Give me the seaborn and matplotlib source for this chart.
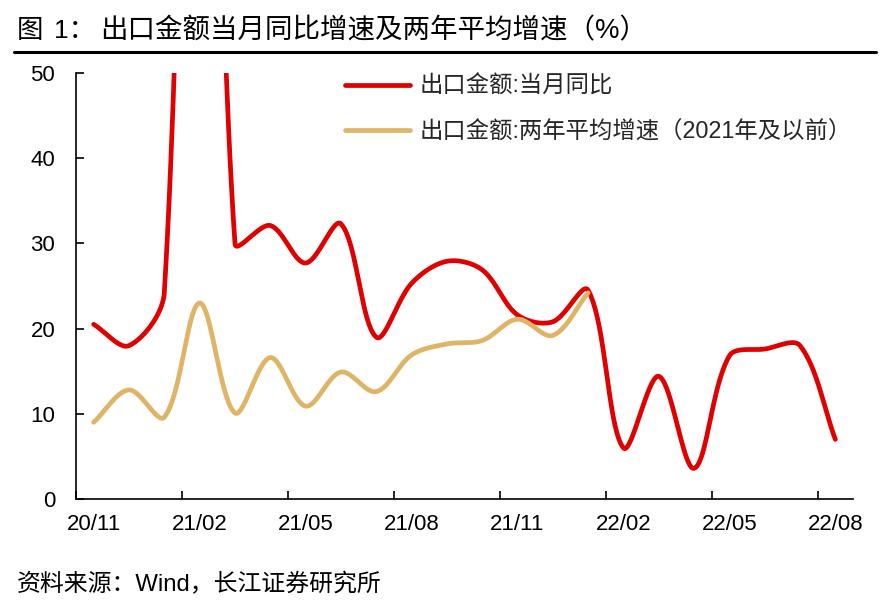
import numpy as np
import seaborn as sns
import matplotlib.pyplot as plt
from matplotlib.lines import Line2D

# Monthly export data (%)
months = ["20/11", "20/12", "21/01", "21/02", "21/03", "21/04", "21/05", "21/06",
          "21/07", "21/08", "21/09", "21/10", "21/11", "21/12", "22/01", "22/02",
          "22/03", "22/04", "22/05", "22/06", "22/07", "22/08"]
yoy = [20.5, 18.0, 24.2, 154.9, 30.0, 32.1, 27.7, 32.3, 19.0, 25.3, 27.9, 26.9,
       21.6, 20.8, 24.5, 6.0, 14.4, 3.6, 16.8, 17.6, 18.0, 7.0]
two_year = [9.0, 12.8, 9.6, 23.0, 10.1, 16.6, 10.9, 14.9, 12.6, 16.9, 18.2, 18.6,
            21.1, 19.2, 24.2]
tick_labels = months[::3]
yticks = [0, 10, 20, 30, 40, 50]

RED = "#E00000"
TAN = "#DFB466"


def excel_smooth(ax, x, y, n=40):
    # Bezier smoothing like Excel "smoothed line", computed in pixel space
    pts = ax.transData.transform(np.column_stack([x, y]))
    m = len(pts)
    out = []
    t = np.linspace(0, 1, n)[:, None]
    for i in range(m - 1):
        p0 = pts[i - 1] if i > 0 else pts[i]
        p1, p2 = pts[i], pts[i + 1]
        p3 = pts[i + 2] if i + 2 < m else pts[i + 1]
        d01 = np.hypot(*(p1 - p0))
        d12 = np.hypot(*(p2 - p1))
        d23 = np.hypot(*(p3 - p2))
        c1 = p1 + (p2 - p0) * d12 / (d01 + d12) / 3
        c2 = p2 - (p3 - p1) * d12 / (d12 + d23) / 3
        seg = (1 - t) ** 3 * p1 + 3 * (1 - t) ** 2 * t * c1 + 3 * (1 - t) * t ** 2 * c2 + t ** 3 * p2
        out.append(seg if i == 0 else seg[1:])
    out = ax.transData.inverted().transform(np.vstack(out))
    return out[:, 0], out[:, 1]


sns.set_theme(style="white")
plt.rcParams['font.family'] = ['Liberation Sans', 'Noto Sans CJK SC']
plt.rcParams['axes.unicode_minus'] = False

fig = plt.figure(figsize=(8.89, 6.16), dpi=100)
ax = fig.add_axes([76 / 889, 1 - 499 / 616, (853 - 76) / 889, (499 - 73) / 616])
ax.set_xlim(-0.5, len(months) - 0.5)
ax.set_ylim(0, 50)

x_red = np.arange(len(yoy))
x_tan = np.arange(len(two_year))
xs, ys = excel_smooth(ax, x_red, yoy)
sns.lineplot(x=xs, y=ys, sort=False, estimator=None, color=RED, linewidth=3.4,
             solid_capstyle='round', ax=ax)
xs, ys = excel_smooth(ax, x_tan, two_year)
sns.lineplot(x=xs, y=ys, sort=False, estimator=None, color=TAN, linewidth=3.4,
             solid_capstyle='round', ax=ax)

# axes styling
sns.despine(ax=ax)
for s in ["left", "bottom"]:
    ax.spines[s].set_color("black")
    ax.spines[s].set_linewidth(1.2)
ax.set_yticks(yticks)
ax.set_yticklabels([str(v) for v in yticks])
ax.set_xticks(np.arange(-0.5, len(months) - 1, 3))
ax.set_xticklabels([])
ax.set_xticks(np.arange(0, len(months), 3), minor=True)
ax.set_xticklabels(tick_labels, minor=True)
ax.tick_params(axis='both', which='major', direction='in', length=6, width=1.2,
               color='black', labelsize=16, labelcolor='black')
ax.tick_params(axis='y', pad=15, left=True)
ax.tick_params(axis='x', which='major', bottom=True)
ax.tick_params(axis='x', which='minor', length=0, pad=11, labelsize=16, labelcolor='black')
ax.grid(False)

handles = [Line2D([], [], color=RED, lw=3.4, solid_capstyle='round'),
           Line2D([], [], color=TAN, lw=3.4, solid_capstyle='round')]
fig.legend(handles, ["出口金额:当月同比", "出口金额:两年平均增速（2021年及以前）"],
           loc='upper left', bbox_to_anchor=(345 / 889, 1 - 75 / 616),
           frameon=False, fontsize=16.8, handlelength=2.8, handletextpad=0.4,
           labelspacing=0.95, borderpad=0, borderaxespad=0)

# title in pieces to mimic the wide spacing of the original
ty = 1 - 31 / 616
fig.text(17 / 889, ty, "图", fontsize=19, va='center', ha='left', color='black')
fig.text(54 / 889, ty, "1：", fontsize=19, va='center', ha='left', color='black')
fig.text(100 / 889, ty, "出口金额当月同比增速及两年平均增速（%）",
         fontsize=19.8, va='center', ha='left', color='black')
fig.add_artist(Line2D([14 / 889, 876 / 889], [1 - 52 / 616] * 2, color='black', lw=2.2))
fig.text(17 / 889, 1 - 585 / 616, "资料来源：Wind，长江证券研究所",
         fontsize=17.2, va='center', ha='left', color='black')

fig.savefig("out.png", dpi=100)
